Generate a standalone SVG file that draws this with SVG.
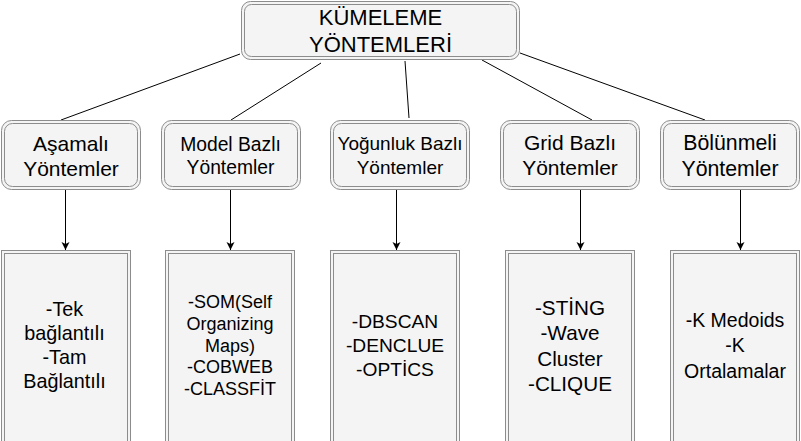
<svg xmlns="http://www.w3.org/2000/svg" width="801" height="441" viewBox="0 0 801 441">
<style>
.o{fill:#f4f4f4;stroke:#8c8c8c;stroke-width:1}
.i{fill:none;stroke:#8c8c8c;stroke-width:1}
.t{font-family:"Liberation Sans",Arial,sans-serif;fill:#000;text-anchor:middle}
.e{stroke:#000;stroke-width:1;fill:none}
</style>
<defs>
<marker id="a" markerUnits="userSpaceOnUse" markerWidth="10" markerHeight="10" refX="8" refY="4" orient="auto">
<path d="M0,0 L8,4 L0,8 L2,4 z" fill="#000"/>
</marker>
</defs>
<rect width="801" height="441" fill="#fff"/>
<g id="connectors">
<line class="e" x1="240" y1="54" x2="61" y2="120"/>
<line class="e" x1="321" y1="63" x2="231" y2="120"/>
<line class="e" x1="405" y1="61" x2="409" y2="118"/>
<line class="e" x1="482" y1="60" x2="592" y2="120"/>
<line class="e" x1="520" y1="53" x2="705" y2="120"/>
<line class="e" x1="65.5" y1="190" x2="65.5" y2="250" marker-end="url(#a)"/>
<line class="e" x1="230.5" y1="190" x2="230.5" y2="250" marker-end="url(#a)"/>
<line class="e" x1="396.5" y1="190" x2="396.5" y2="250" marker-end="url(#a)"/>
<line class="e" x1="580.5" y1="190" x2="580.5" y2="250" marker-end="url(#a)"/>
<line class="e" x1="740.5" y1="190" x2="740.5" y2="250" marker-end="url(#a)"/>
</g>
<g id="root">
<rect class="o" x="241.5" y="1.5" width="278" height="58" rx="9"/>
<rect class="i" x="244.5" y="4.5" width="272" height="52" rx="7"/>
<text class="t" x="380.5" y="25" font-size="22">KÜMELEME</text>
<text class="t" x="380.5" y="51.5" font-size="22">YÖNTEMLERİ</text>
</g>
<g id="n1">
<rect class="o" x="1.5" y="120.5" width="139" height="69" rx="10"/>
<rect class="i" x="4.5" y="123.5" width="133" height="63" rx="8"/>
<text class="t" x="71" y="150.5" font-size="21">Aşamalı</text>
<text class="t" x="71" y="175.5" font-size="21">Yöntemler</text>
</g>
<g id="n2">
<rect class="o" x="161.5" y="120.5" width="139" height="69" rx="10"/>
<rect class="i" x="164.5" y="123.5" width="133" height="63" rx="8"/>
<text class="t" x="230.5" y="150.5" font-size="19.3">Model Bazlı</text>
<text class="t" x="230.5" y="174" font-size="19.3">Yöntemler</text>
</g>
<g id="n3">
<rect class="o" x="330.5" y="120.5" width="139" height="69" rx="10"/>
<rect class="i" x="333.5" y="123.5" width="133" height="63" rx="8"/>
<text class="t" x="400" y="150" font-size="19">Yoğunluk Bazlı</text>
<text class="t" x="400" y="173.5" font-size="19">Yöntemler</text>
</g>
<g id="n4">
<rect class="o" x="500.5" y="120.5" width="139" height="69" rx="10"/>
<rect class="i" x="503.5" y="123.5" width="133" height="63" rx="8"/>
<text class="t" x="570" y="150" font-size="21">Grid Bazlı</text>
<text class="t" x="570" y="175" font-size="21">Yöntemler</text>
</g>
<g id="n5">
<rect class="o" x="660.5" y="120.5" width="139" height="69" rx="10"/>
<rect class="i" x="663.5" y="123.5" width="133" height="63" rx="8"/>
<text class="t" x="730" y="149.5" font-size="21.3">Bölünmeli</text>
<text class="t" x="730" y="176" font-size="21.3">Yöntemler</text>
</g>
<g id="b1">
<rect class="o" x="1.5" y="250.5" width="129" height="200"/>
<rect class="i" x="4.5" y="253.5" width="123" height="200"/>
<text class="t" x="64.5" y="316" font-size="19.8">-Tek</text>
<text class="t" x="64.5" y="340" font-size="19.8">bağlantılı</text>
<text class="t" x="64.5" y="364" font-size="19.8">-Tam</text>
<text class="t" x="64.5" y="388" font-size="19.8">Bağlantılı</text>
</g>
<g id="b2">
<rect class="o" x="165.5" y="250.5" width="129" height="200"/>
<rect class="i" x="168.5" y="253.5" width="123" height="200"/>
<text class="t" x="230" y="308.3" font-size="18">-SOM(Self</text>
<text class="t" x="230" y="330" font-size="18">Organizing</text>
<text class="t" x="230" y="351.7" font-size="18">Maps)</text>
<text class="t" x="230" y="373.3" font-size="18">-COBWEB</text>
<text class="t" x="230" y="394.5" font-size="18">-CLASSFİT</text>
</g>
<g id="b3">
<rect class="o" x="330.5" y="250.5" width="129" height="200"/>
<rect class="i" x="333.5" y="253.5" width="123" height="200"/>
<text class="t" x="395" y="328.3" font-size="19.2">-DBSCAN</text>
<text class="t" x="395" y="352.3" font-size="19.2">-DENCLUE</text>
<text class="t" x="395" y="376" font-size="19.2">-OPTİCS</text>
</g>
<g id="b4">
<rect class="o" x="505.5" y="250.5" width="129" height="200"/>
<rect class="i" x="508.5" y="253.5" width="123" height="200"/>
<text class="t" x="570" y="315" font-size="20.7">-STİNG</text>
<text class="t" x="570" y="340.3" font-size="20.7">-Wave</text>
<text class="t" x="570" y="365.7" font-size="20.7">Cluster</text>
<text class="t" x="570" y="391" font-size="20.7">-CLIQUE</text>
</g>
<g id="b5">
<rect class="o" x="670.5" y="250.5" width="129" height="200"/>
<rect class="i" x="673.5" y="253.5" width="123" height="200"/>
<text class="t" x="735" y="327.3" font-size="19.5">-K Medoids</text>
<text class="t" x="735" y="352.3" font-size="19.5">-K</text>
<text class="t" x="735" y="377.5" font-size="19.5">Ortalamalar</text>
</g>
</svg>
